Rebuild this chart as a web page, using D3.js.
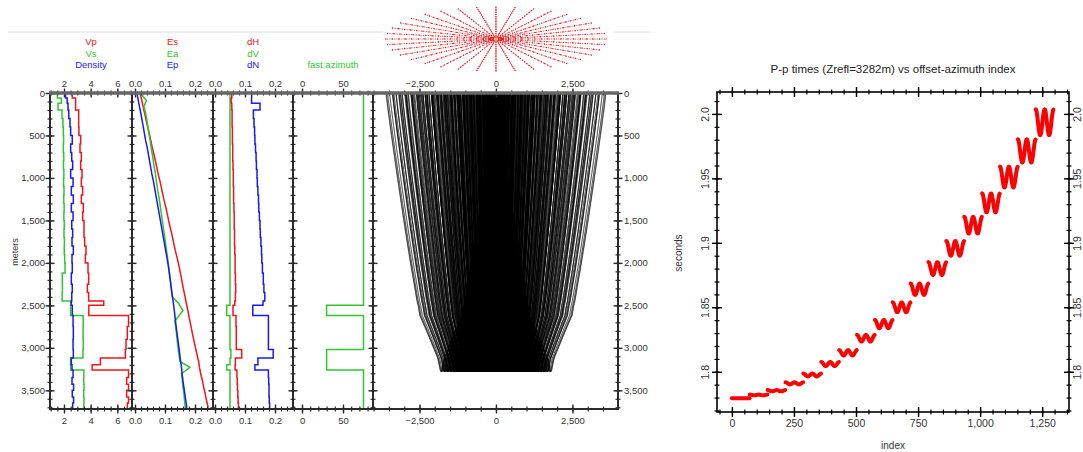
<!DOCTYPE html>
<html>
<head>
<meta charset="UTF-8">
<title>Layered model logs, ray paths and P-p times</title>
<style>
  body { margin: 0; background: #fff; }
  svg text { font-family: 'Liberation Sans', Arial, sans-serif; }
</style>
</head>
<body>
<svg id="chart"></svg>
<script src="https://d3js.org/d3.v7.min.js"></script>
<script>
// ---- model layers (top depth of each layer, metres) ----
const depthTops = [0, 60, 120, 200, 300, 400, 500, 600, 700, 800, 900, 1000, 1100, 1200, 1300, 1400,
  1500, 1600, 1700, 1800, 1900, 2000, 2120, 2250, 2350, 2450, 2500, 2620, 2750, 2900, 3020, 3120,
  3200, 3260, 3350, 3430, 3500, 3580, 3650];
const depthBase = 3720;

// track 1 (km/s, g/cc)
const vp = [2.62, 2.87, 2.87, 3.10, 3.10, 3.12, 3.25, 3.20, 3.30, 3.25, 3.35, 3.30, 3.40, 3.30, 3.45, 3.40,
  3.50, 3.50, 3.55, 3.65, 3.60, 3.80, 3.85, 3.75, 3.85, 4.98, 3.86, 6.84, 6.75, 6.65, 6.60, 4.73,
  4.11, 6.84, 6.70, 6.84, 6.70, 6.84, 6.75];
const vs = [1.50, 1.80, 1.55, 1.85, 1.92, 1.95, 1.97, 1.95, 1.98, 1.96, 1.99, 1.97, 2.00, 1.98, 2.01, 1.99,
  2.02, 2.00, 2.03, 2.02, 2.05, 2.08, 1.87, 1.88, 1.86, 2.49, 2.49, 3.44, 3.43, 3.44, 3.42, 2.49,
  2.50, 3.49, 3.48, 3.50, 3.48, 3.50, 3.49];
const density = [2.12, 2.24, 2.30, 2.36, 2.45, 2.50, 2.62, 2.50, 2.58, 2.65, 2.50, 2.68, 2.55, 2.70, 2.55, 2.68,
  2.58, 2.65, 2.60, 2.70, 2.60, 2.62, 2.55, 2.62, 2.58, 2.55, 2.62, 2.68, 2.70, 2.68, 2.70, 2.55,
  2.60, 2.68, 2.60, 2.72, 2.62, 2.72, 2.65];

// track 2
const es = [0.019, 0.023, 0.027, 0.033, 0.039, 0.046, 0.052, 0.058, 0.065, 0.071, 0.077, 0.084, 0.090, 0.096, 0.103, 0.109,
  0.115, 0.122, 0.128, 0.134, 0.141, 0.148, 0.155, 0.161, 0.167, 0.171, 0.176, 0.183, 0.191, 0.199, 0.206, 0.212,
  0.215, 0.219, 0.225, 0.229, 0.234, 0.238, 0.243];
const ea = [0.025, 0.038, 0.030, 0.036, 0.041, 0.045, 0.050, 0.054, 0.059, 0.063, 0.068, 0.072, 0.076, 0.081, 0.085, 0.089,
  0.093, 0.097, 0.101, 0.105, 0.109, 0.113, 0.117, 0.121, 0.124, 0.145, 0.160, 0.133, 0.138, 0.142, 0.146, 0.150,
  0.183, 0.155, 0.158, 0.160, 0.163, 0.165, 0.167];
const ep = [0.008, 0.011, 0.015, 0.020, 0.025, 0.030, 0.035, 0.041, 0.046, 0.051, 0.056, 0.062, 0.067, 0.072, 0.077, 0.082,
  0.087, 0.092, 0.097, 0.102, 0.107, 0.112, 0.117, 0.121, 0.125, 0.128, 0.131, 0.135, 0.140, 0.145, 0.149, 0.152,
  0.155, 0.157, 0.160, 0.163, 0.166, 0.169, 0.172];

// track 3
const dH = [0.056, 0.054, 0.056, 0.057, 0.057, 0.058, 0.058, 0.059, 0.059, 0.060, 0.061, 0.061, 0.062, 0.062, 0.063, 0.064,
  0.064, 0.065, 0.065, 0.066, 0.067, 0.067, 0.068, 0.069, 0.068, 0.066, 0.060, 0.070, 0.071, 0.071, 0.089, 0.068,
  0.067, 0.073, 0.074, 0.075, 0.076, 0.077, 0.078];
const dV = [0.050, 0.050, 0.050, 0.050, 0.050, 0.050, 0.050, 0.050, 0.050, 0.050, 0.050, 0.050, 0.050, 0.050, 0.050, 0.050,
  0.050, 0.050, 0.050, 0.050, 0.050, 0.050, 0.050, 0.050, 0.050, 0.050, 0.039, 0.050, 0.050, 0.050, 0.053, 0.050,
  0.039, 0.050, 0.050, 0.050, 0.050, 0.050, 0.050];
const dN = [0.122, 0.122, 0.150, 0.128, 0.130, 0.132, 0.133, 0.135, 0.137, 0.138, 0.140, 0.141, 0.143, 0.145, 0.146, 0.148,
  0.150, 0.151, 0.153, 0.155, 0.156, 0.158, 0.161, 0.163, 0.166, 0.160, 0.126, 0.178, 0.178, 0.178, 0.194, 0.143,
  0.133, 0.178, 0.179, 0.180, 0.180, 0.181, 0.182];

// track 4 (degrees)
const fastAzimuth = [75, 75, 75, 75, 75, 75, 75, 75, 75, 75, 75, 75, 75, 75, 75, 75,
  75, 75, 75, 75, 75, 75, 75, 75, 75, 75, 30, 75, 75, 75, 30, 30,
  30, 75, 75, 75, 75, 75, 75];

// ---- acquisition ----
const offsets = [0, 212, 424, 635, 847, 1059, 1271, 1482, 1694, 1906, 2118, 2329, 2541, 2753, 2965, 3176, 3388, 3600];
const azimuths = [0, 5, 10, 15, 20, 25, 30, 35, 40, 45, 50, 55, 60, 65, 70, 75, 80, 85, 90, 95, 100, 105, 110, 115,
  120, 125, 130, 135, 140, 145, 150, 155, 160, 165, 170, 175, 180, 185, 190, 195, 200, 205, 210, 215, 220, 225, 230, 235,
  240, 245, 250, 255, 260, 265, 270, 275, 280, 285, 290, 295, 300, 305, 310, 315, 320, 325, 330, 335, 340, 345, 350, 355];
const reflectorDepth = 3282;

// P-p time per offset group (s) and its azimuthal swing (s)
const groupTime = [1.7794, 1.7820, 1.7853, 1.7910, 1.7975, 1.8060, 1.8147, 1.8260, 1.8370,
  1.8500, 1.8640, 1.8800, 1.8957, 1.9137, 1.9310, 1.9510, 1.9713, 1.9935];
const groupSwing = [0, 0.0003, 0.0005, 0.0008, 0.0011, 0.0016, 0.0021, 0.0026, 0.0032,
  0.0038, 0.0044, 0.0050, 0.0057, 0.0065, 0.0073, 0.0081, 0.0090, 0.0100];

// tick labels
const depthTicks = [0, 500, 1000, 1500, 2000, 2500, 3000, 3500];
const indexTicks = [0, 250, 500, 750, 1000, 1250];
const secondTicks = [1.8, 1.85, 1.9, 1.95, 2.0];
const secondLabels = ['1.8', '1.85', '1.9', '1.95', '2.0'];

const RED = '#f0141e', GREEN = '#33c433', BLUE = '#1a1aee', INK = '#2a2a2a';
const W = 1083, H = 452;

const svg = d3.select('#chart').attr('width', W).attr('height', H);

function crossTicks(g, axisFn, scale, values, len, width, color) {
  [len, -len].forEach(s => {
    const a = g.append('g').call(axisFn(scale).tickValues(values).tickSize(s).tickFormat(''));
    a.select('.domain').remove();
    a.selectAll('line').attr('stroke', color || INK).attr('stroke-width', width);
  });
}
function tickLabels(g, axisFn, scale, values, pad, fmt, size) {
  const a = g.append('g').call(axisFn(scale).tickValues(values).tickSize(0).tickPadding(pad).tickFormat(fmt));
  a.select('.domain').remove();
  a.selectAll('text').attr('fill', '#333').style('font-size', size + 'px')
    .style('font-family', "'Liberation Sans', Arial, sans-serif");
  return a;
}

// ---------------- left panel ----------------
const yTop = 93, yBot = 409;
const yDepth = d3.scaleLinear().domain([0, depthBase]).range([yTop, yBot]);

const tracks = [
  { x0: 50, x1: 132, domain: [0.95, 7.1], major: [2, 4, 6], step: 0.5, fmt: d3.format('d'), style: 'step',
    curves: [[vp, RED], [vs, GREEN], [density, BLUE]], names: [['Vp', RED], ['Vs', GREEN], ['Density', BLUE]] },
  { x0: 132, x1: 213, domain: [-0.01, 0.26], major: [0, 0.1, 0.2], step: 0.02, fmt: d3.format('.1f'), style: 'linear',
    curves: [[es, RED], [ea, GREEN], [ep, BLUE]], names: [['Es', RED], ['Ea', GREEN], ['Ep', BLUE]] },
  { x0: 213, x1: 293, domain: [-0.0067, 0.26], major: [0, 0.1, 0.2], step: 0.02, fmt: d3.format('.1f'), style: 'step',
    curves: [[dV, GREEN], [dH, RED], [dN, BLUE]], names: [['dH', RED], ['dV', GREEN], ['dN', BLUE]] },
  { x0: 293, x1: 373, domain: [-11, 86.6], major: [0, 50], step: 10, fmt: d3.format('d'), style: 'step',
    curves: [[fastAzimuth, GREEN]], names: [[null], [null], ['fast azimuth', GREEN]] },
  { x0: 373, x1: 618, domain: [-4020, 3990], major: [-2500, 0, 2500], step: 500, fmt: d3.format(',') }
];
tracks.forEach(t => { t.x = d3.scaleLinear().domain(t.domain).range([t.x0, t.x1]); });

// header rule
svg.append('line').attr('x1', 8).attr('x2', 650).attr('y1', 32).attr('y2', 32)
  .attr('stroke', '#dcdcdc').attr('stroke-width', 1);

// track names
tracks.forEach(t => {
  if (!t.names) return;
  const cx = (t.x0 + t.x1) / 2;
  t.names.forEach((n, i) => {
    if (!n[0]) return;
    svg.append('text').attr('x', cx).attr('y', 45 + i * 11.5).attr('text-anchor', 'middle')
      .attr('fill', n[1]).style('font-size', '9.5px').text(n[0]);
  });
});

const defs = svg.append('defs');
tracks.forEach((t, i) => {
  defs.append('clipPath').attr('id', 'clip' + i).append('rect')
    .attr('x', t.x0).attr('y', yTop).attr('width', t.x1 - t.x0).attr('height', yBot - yTop);
});

// log curves: blocky layers, or a line through the layer mid-depths
function layerBottom(i) { return i + 1 < depthTops.length ? depthTops[i + 1] : depthBase; }
function stepPoints(vals) {
  const pts = [];
  vals.forEach((v, i) => pts.push([v, depthTops[i]], [v, layerBottom(i)]));
  return pts;
}
function midPoints(vals) {
  const pts = [[vals[0], 0]];
  vals.forEach((v, i) => pts.push([v, (depthTops[i] + layerBottom(i)) / 2]));
  pts.push([vals[vals.length - 1], depthBase]);
  return pts;
}
tracks.forEach((t, i) => {
  if (!t.curves) return;
  const g = svg.append('g').attr('clip-path', `url(#clip${i})`);
  const line = d3.line().x(d => t.x(d[0])).y(d => yDepth(d[1]));
  t.curves.forEach(([vals, col]) => {
    const pts = t.style === 'linear' ? midPoints(vals) : stepPoints(vals);
    g.append('path').attr('d', line(pts)).attr('fill', 'none')
      .attr('stroke', col).attr('stroke-width', 1.5);
  });
});

// ray paths through the Vp layers (Snell's law, shot from the surface origin)
const xRay = tracks[4].x;
function rayTrace(p) {
  const pts = [[0, 0]];
  let x = 0;
  for (let i = 0; i < depthTops.length; i++) {
    const top = depthTops[i];
    if (top >= reflectorDepth) break;
    const bot = Math.min(layerBottom(i), reflectorDepth);
    const s = p * vp[i] * 1000;
    x += (bot - top) * s / Math.sqrt(1 - s * s);
    pts.push([x, bot]);
  }
  return pts;
}
const vMax = d3.max(vp.filter((v, i) => depthTops[i] < reflectorDepth)) * 1000;
function solveRay(half) {
  let lo = 0, hi = 0.9999999 / vMax;
  for (let k = 0; k < 60; k++) {
    const mid = (lo + hi) / 2;
    const pts = rayTrace(mid);
    if (pts[pts.length - 1][0] < half) lo = mid; else hi = mid;
  }
  return rayTrace((lo + hi) / 2);
}
const rays = [];
offsets.forEach(h => {
  const down = solveRay(h / 2);
  const up = down.slice().reverse().map(([x, z]) => [h - x, z]);
  const path = down.concat(up.slice(1));
  azimuths.forEach(a => {
    const c = Math.cos(a * Math.PI / 180);
    rays.push(path.map(([x, z]) => [x * c, z]));
  });
});
const rayLine = d3.line().x(d => xRay(d[0])).y(d => yDepth(d[1]));
svg.append('g').attr('clip-path', 'url(#clip4)')
  .selectAll('path').data(rays).enter().append('path')
  .attr('d', rayLine).attr('fill', 'none').attr('stroke', '#000').attr('stroke-width', 0.4);

// axes of the left panel
const trackEdges = [50, 132, 213, 293, 373, 618];
const depthMinor = d3.range(0, depthBase + 1, 100);
trackEdges.forEach(xb => {
  const g = svg.append('g').attr('transform', `translate(${xb},0)`);
  crossTicks(g, d3.axisLeft, yDepth, depthMinor, 2.5, 1.2);
  crossTicks(g, d3.axisLeft, yDepth, depthTicks, 4.5, 1.4);
});
tickLabels(svg.append('g').attr('transform', 'translate(50,0)'), d3.axisLeft, yDepth, depthTicks, 5, d3.format(','), 9.5);
tickLabels(svg.append('g').attr('transform', 'translate(618,0)'), d3.axisRight, yDepth, depthTicks, 6, d3.format(','), 9.5);

tracks.forEach(t => {
  const minor = d3.range(Math.ceil(t.domain[0] / t.step) * t.step, t.domain[1], t.step);
  [yTop, yBot].forEach(yy => {
    const g = svg.append('g').attr('transform', `translate(0,${yy})`);
    crossTicks(g, d3.axisTop, t.x, minor, 2.5, 1.2);
    crossTicks(g, d3.axisTop, t.x, t.major, 4.5, 1.4);
  });
  tickLabels(svg.append('g').attr('transform', `translate(0,${yTop})`), d3.axisTop, t.x, t.major, 6, t.fmt, 9.5);
  tickLabels(svg.append('g').attr('transform', `translate(0,${yBot})`), d3.axisBottom, t.x, t.major, 8, t.fmt, 9.5);
});

// frame lines
trackEdges.forEach(xb => {
  svg.append('line').attr('x1', xb).attr('x2', xb).attr('y1', yTop).attr('y2', yBot)
    .attr('stroke', INK).attr('stroke-width', 2);
});
svg.append('line').attr('x1', 49).attr('x2', 619).attr('y1', yBot).attr('y2', yBot)
  .attr('stroke', INK).attr('stroke-width', 2.2);
svg.append('line').attr('x1', 49).attr('x2', 619).attr('y1', yTop).attr('y2', yTop)
  .attr('stroke', '#666').attr('stroke-width', 3.5);

svg.append('text').attr('transform', 'translate(18,252) rotate(-90)').attr('text-anchor', 'middle')
  .attr('fill', '#333').style('font-size', '9px').text('meters');

// rosette of offset-azimuth pairs (every second azimuth drawn as a spoke)
const rosY = d3.scaleLinear().domain([-3600, 3600]).range([71, 7]);
svg.append('rect').attr('x', 383).attr('y', 0).attr('width', 231).attr('height', 77).attr('fill', '#fff');
const spokeAz = azimuths.filter((a, i) => i % 2 === 0);
const spokes = spokeAz.map(a => {
  const r = a * Math.PI / 180;
  return offsets.map(h => [h * Math.cos(r), h * Math.sin(r)]);
});
const rosLine = d3.line().x(d => xRay(d[0])).y(d => rosY(d[1]));
const ros = svg.append('g');
ros.selectAll('path').data(spokes).enter().append('path')
  .attr('d', rosLine).attr('fill', 'none').attr('stroke', RED)
  .attr('stroke-width', 0.9).attr('stroke-dasharray', '1,1.4');
ros.selectAll('circle').data(spokes.flat()).enter().append('circle')
  .attr('cx', d => xRay(d[0])).attr('cy', d => rosY(d[1])).attr('r', 0.7).attr('fill', RED);
svg.append('circle').attr('cx', xRay(0)).attr('cy', rosY(0)).attr('r', 1.5).attr('fill', '#9c3');

// ---------------- right panel: P-p times ----------------
const px0 = 717, px1 = 1069, py0 = 92, py1 = 412;
const xIdx = d3.scaleLinear().domain([-60, 1358]).range([px0, px1]);
const yT = d3.scaleLinear().domain([1.7688, 2.017]).range([py1, py0]);

const groups = groupTime.map((t0, g) => azimuths.map((a, k) => ({
  i: g * azimuths.length + k,
  t: t0 + groupSwing[g] * Math.cos(2 * a * Math.PI / 180)
})));
const tLine = d3.line().x(d => xIdx(d.i)).y(d => yT(d.t));
svg.append('g').selectAll('path').data(groups).enter().append('path')
  .attr('d', tLine).attr('fill', 'none').attr('stroke', '#ff0000')
  .attr('stroke-width', 4).attr('stroke-linejoin', 'round').attr('stroke-linecap', 'round');

const idxMinor = d3.range(-50, 1351, 50);
const secMinor = d3.range(1.77, 2.011, 0.01);
[py0, py1].forEach(yy => {
  const g = svg.append('g').attr('transform', `translate(0,${yy})`);
  crossTicks(g, d3.axisBottom, xIdx, idxMinor, 2.5, 1.2, '#000');
  crossTicks(g, d3.axisBottom, xIdx, indexTicks, 5, 1.4, '#000');
});
[px0, px1].forEach(xx => {
  const g = svg.append('g').attr('transform', `translate(${xx},0)`);
  crossTicks(g, d3.axisLeft, yT, secMinor, 2.5, 1.2, '#000');
  crossTicks(g, d3.axisLeft, yT, secondTicks, 5, 1.4, '#000');
});
svg.append('rect').attr('x', px0).attr('y', py0).attr('width', px1 - px0).attr('height', py1 - py0)
  .attr('fill', 'none').attr('stroke', '#000').attr('stroke-width', 1.6);

tickLabels(svg.append('g').attr('transform', `translate(0,${py1})`), d3.axisBottom, xIdx, indexTicks, 8, d3.format(','), 10.5);
[[px0, -8.5, d3.axisLeft], [px1, 12, d3.axisRight]].forEach(([xx, off, fn]) => {
  const a = tickLabels(svg.append('g').attr('transform', `translate(${xx},0)`), fn, yT, secondTicks, 0,
    (d, i) => secondLabels[i], 10.5);
  a.selectAll('text').attr('x', 0).attr('y', off).attr('dy', 0).attr('text-anchor', 'middle')
    .attr('transform', 'rotate(-90)');
});

svg.append('text').attr('x', 893).attr('y', 73).attr('text-anchor', 'middle').attr('fill', '#222')
  .style('font-size', '11.5px').text('P-p times (Zrefl=3282m) vs offset-azimuth index');
svg.append('text').attr('transform', 'translate(682,253) rotate(-90)').attr('text-anchor', 'middle')
  .attr('fill', '#333').style('font-size', '10px').text('seconds');
svg.append('text').attr('x', 893).attr('y', 449).attr('text-anchor', 'middle')
  .attr('fill', '#333').style('font-size', '10px').text('index');
</script>
</body>
</html>
